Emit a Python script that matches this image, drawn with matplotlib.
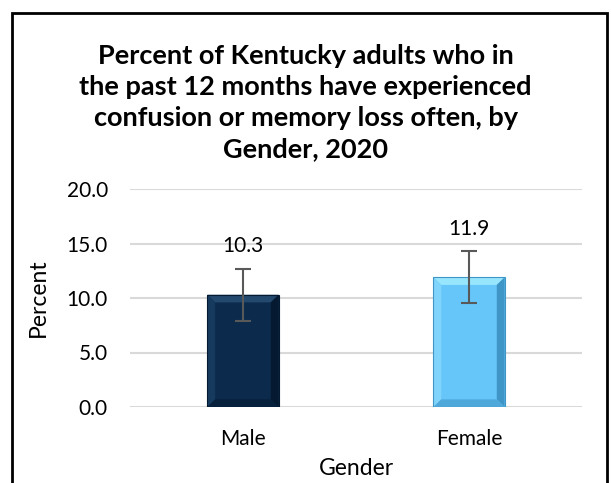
import numpy as np
import matplotlib.pyplot as plt
from matplotlib.patches import Rectangle, Polygon

genders = ["Male", "Female"]
percent = [10.3, 11.9]
lower_ci = [7.9, 9.5]
upper_ci = [12.7, 14.3]
bar_colors = ["#0b2a4c", "#66c6fa"]
# bevel shades: top, left, right, bottom
bevel_colors = [["#24496f", "#163a5e", "#051a31", "#07203b"],
                ["#98e6fe", "#80d4fb", "#3f95c6", "#4fa8da"]]

plt.rcParams['font.family'] = ['Lato', 'DejaVu Sans']

fig = plt.figure(figsize=(6.11, 4.83), dpi=100)
ax = fig.add_axes([130/611, 1 - 407/483, 452/611, 218/483])

x = np.arange(len(genders))
yerr = [np.array(percent) - np.array(lower_ci), np.array(upper_ci) - np.array(percent)]
bars = ax.bar(x, percent, width=0.315, color=bar_colors, edgecolor='none', zorder=2)

# bevelled look on each bar
for b, cols in zip(bars, bevel_colors):
    x0, w, h = b.get_x(), b.get_width(), b.get_height()
    dx, dy = w * 0.11, 0.7
    x1 = x0 + w
    quads = [
        [(x0, h), (x1, h), (x1 - dx, h - dy), (x0 + dx, h - dy)],
        [(x0, 0), (x0, h), (x0 + dx, h - dy), (x0 + dx, dy)],
        [(x1, 0), (x1, h), (x1 - dx, h - dy), (x1 - dx, dy)],
        [(x0, 0), (x1, 0), (x1 - dx, dy), (x0 + dx, dy)],
    ]
    for q, c in zip(quads, cols):
        ax.add_patch(Polygon(q, closed=True, facecolor=c, edgecolor='none', zorder=2.1))
    ax.add_patch(Rectangle((x0, 0), w, h, fill=False, edgecolor=cols[2], linewidth=0.8, zorder=2.2))

ax.errorbar(x, percent, yerr=yerr, fmt='none', ecolor='#595959', elinewidth=1.5,
            capsize=6, capthick=1.5, zorder=3)

for xi, v, u in zip(x, percent, upper_ci):
    ax.annotate(f"{v:.1f}", (xi, u), xytext=(0, 9), textcoords='offset points',
                ha='center', va='bottom', fontsize=15)

ax.set_xlim(-0.5, 1.5)
ax.set_ylim(0, 20)
ax.set_yticks([0, 5, 10, 15, 20])
ax.set_yticklabels([f"{t:.1f}" for t in [0, 5, 10, 15, 20]], fontsize=15)
ax.set_xticks(x)
ax.set_xticklabels(genders, fontsize=15)
ax.tick_params(length=0, pad=16)
ax.tick_params(axis='y', pad=16)
ax.grid(axis='y', color='#d9d9d9', linewidth=1.5, zorder=0)
ax.set_axisbelow(True)
for s in ax.spines.values():
    s.set_visible(False)

ax.set_xlabel("Gender", fontsize=16.5, labelpad=6)
ax.set_ylabel("Percent", fontsize=16.5, labelpad=13)

fig.text(0.5, 1 - 44/483, "Percent of Kentucky adults who in\nthe past 12 months have experienced\n"
         "confusion or memory loss often, by\nGender, 2020",
         ha='center', va='top', fontsize=19.5, fontweight='bold', linespacing=1.36,
         transform=fig.transFigure)

fig.patches.append(Rectangle((12/611, -0.01), 595/611, 1 - 13/483 + 0.01, transform=fig.transFigure,
                             fill=False, edgecolor='black', linewidth=2))

fig.savefig("out.png", dpi=100)
